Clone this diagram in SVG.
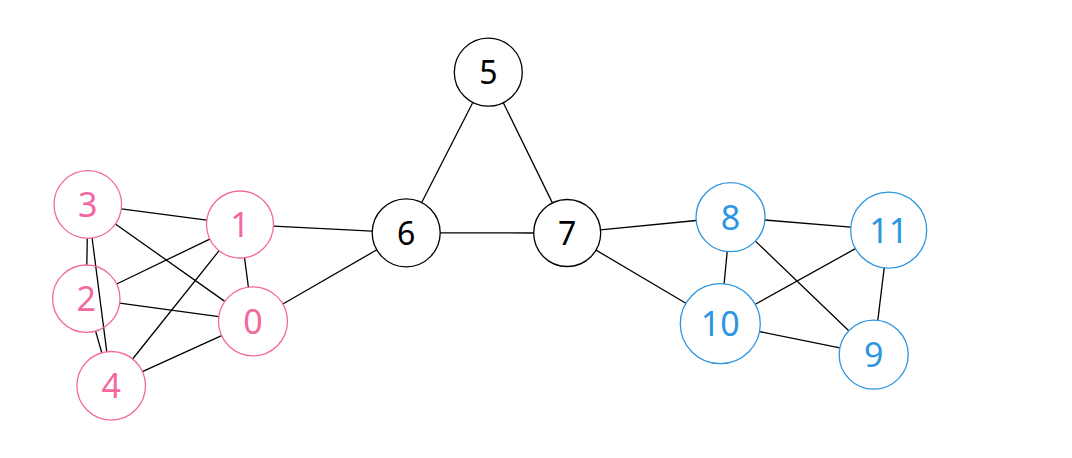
<svg xmlns="http://www.w3.org/2000/svg" width="1072" height="458" viewBox="0 0 1072 458">
<style>
.e{stroke:#000;stroke-width:1.3;fill:none}
circle{fill:none;stroke-width:1.3}
.p circle{stroke:#f2689f}
.b circle{stroke:#2d96e0}
.k circle{stroke:#000}
text{font-family:"Noto Sans","Open Sans",sans-serif;text-anchor:middle}
.p text{fill:#f2689f;font-size:34px}
.b text{fill:#2d96e0;font-size:34px}
.k text{fill:#000;font-size:32px}
</style>
<rect width="1072" height="458" fill="#fff"/>
<g id="edges">
<line class="e" x1="121.3" y1="208.9" x2="206.8" y2="220.1"/>
<line class="e" x1="115.4" y1="224.0" x2="224.8" y2="301.4"/>
<line class="e" x1="87.3" y1="238.3" x2="86.8" y2="265.0"/>
<line class="e" x1="92.1" y1="238.0" x2="106.8" y2="351.8"/>
<line class="e" x1="116.6" y1="284.0" x2="209.8" y2="239.1"/>
<line class="e" x1="119.7" y1="303.2" x2="218.8" y2="316.7"/>
<line class="e" x1="95.6" y1="331.1" x2="101.8" y2="352.8"/>
<line class="e" x1="244.5" y1="257.7" x2="248.4" y2="287.1"/>
<line class="e" x1="219.1" y1="250.7" x2="132.6" y2="359.0"/>
<line class="e" x1="273.5" y1="226.2" x2="372.2" y2="231.1"/>
<line class="e" x1="221.6" y1="335.6" x2="142.4" y2="371.6"/>
<line class="e" x1="282.9" y1="304.0" x2="376.8" y2="249.8"/>
<line class="e" x1="421.7" y1="202.5" x2="472.8" y2="102.5"/>
<line class="e" x1="440.2" y1="232.8" x2="533.7" y2="233.0"/>
<line class="e" x1="503.3" y1="102.7" x2="552.4" y2="202.9"/>
<line class="e" x1="600.5" y1="229.8" x2="696.2" y2="220.5"/>
<line class="e" x1="596.0" y1="250.1" x2="685.9" y2="303.3"/>
<line class="e" x1="764.9" y1="220.0" x2="850.8" y2="227.1"/>
<line class="e" x1="727.2" y1="251.5" x2="724.1" y2="283.9"/>
<line class="e" x1="755.4" y1="241.1" x2="848.8" y2="330.8"/>
<line class="e" x1="855.5" y1="248.6" x2="755.3" y2="304.3"/>
<line class="e" x1="884.2" y1="267.9" x2="877.8" y2="320.4"/>
<line class="e" x1="759.5" y1="331.6" x2="839.9" y2="347.9"/>
</g>
<g id="n0" class="p"><circle cx="253" cy="321.3" r="34.5"/><text x="253" y="333.8">0</text></g>
<g id="n1" class="p"><circle cx="240" cy="224.5" r="33.5"/><text x="240" y="237">1</text></g>
<g id="n2" class="p"><circle cx="86.3" cy="298.7" r="33.7"/><text x="86.3" y="311.2">2</text></g>
<g id="n3" class="p"><circle cx="87.8" cy="204.5" r="33.8"/><text x="87.8" y="217">3</text></g>
<g id="n4" class="p"><circle cx="111.2" cy="385.8" r="34.3"/><text x="111.2" y="398.3">4</text></g>
<g id="n5" class="k"><circle cx="488.3" cy="72.2" r="34"/><text x="488.3" y="83.9">5</text></g>
<g id="n6" class="k"><circle cx="406.2" cy="232.8" r="34"/><text x="406.2" y="244.5">6</text></g>
<g id="n7" class="k"><circle cx="567.2" cy="233" r="33.5"/><text x="567.2" y="244.7">7</text></g>
<g id="n8" class="b"><circle cx="730.5" cy="217.2" r="34.5"/><text x="730.5" y="229.7">8</text></g>
<g id="n9" class="b"><circle cx="873.7" cy="354.7" r="34.5"/><text x="873.7" y="367.2">9</text></g>
<g id="n10" class="b"><circle cx="720.3" cy="323.7" r="40"/><text x="720.3" y="336.2">10</text></g>
<g id="n11" class="b"><circle cx="888.7" cy="230.2" r="38"/><text x="888.7" y="242.7">11</text></g>
</svg>
